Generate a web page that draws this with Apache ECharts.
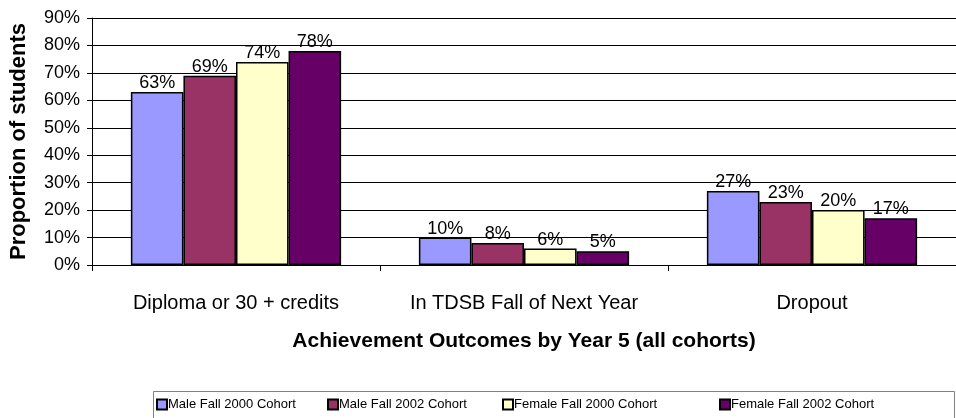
<!DOCTYPE html>
<html>
<head>
<meta charset="utf-8">
<script src="https://cdn.jsdelivr.net/npm/echarts@6/dist/echarts.min.js"></script>
<style>
  html, body { margin: 0; padding: 0; background: #fff; }
  #chart { width: 956px; height: 418px; }
</style>
</head>
<body>
<div id="chart"></div>
<script>
// Outcome categories and cohort percentages
const categories = ['Diploma or 30 + credits', 'In TDSB Fall of Next Year', 'Dropout'];
const seriesNames = ['Male Fall 2000 Cohort', 'Male Fall 2002 Cohort', 'Female Fall 2000 Cohort', 'Female Fall 2002 Cohort'];
const maleFall2000 = [63, 10, 27];
const maleFall2002 = [69, 8, 23];
const femaleFall2000 = [74, 6, 20];
const femaleFall2002 = [78, 5, 17];
const yTicks = [0, 10, 20, 30, 40, 50, 60, 70, 80, 90];

const colors = ['#9999FF', '#993366', '#FFFFCC', '#660066'];
const values = [maleFall2000, maleFall2002, femaleFall2000, femaleFall2002];
const legendLefts = [156, 327, 502, 719];
const FONT = '"Liberation Sans", Arial, sans-serif';

const chart = echarts.init(document.getElementById('chart'));

chart.setOption({
  animation: false,
  backgroundColor: '#fff',
  textStyle: { fontFamily: FONT, color: '#000' },
  grid: { left: 92, top: 18, width: 873, height: 247, containLabel: false },
  graphic: [{
    type: 'rect',
    shape: { x: 153.5, y: 391.5, width: 801, height: 40 },
    style: { fill: '#fff', stroke: '#808080', lineWidth: 1 },
    z: 0
  }],
  // one legend block per cohort so each entry sits at its own spot in the box
  legend: seriesNames.map((name, i) => ({
    data: [name],
    left: legendLefts[i],
    top: 398,
    padding: 0,
    itemWidth: 10,
    itemHeight: 10,
    icon: 'rect',
    textStyle: { fontFamily: FONT, fontSize: 13, color: '#000', padding: [0, 0, 0, -4] },
    z: 5
  })),
  xAxis: {
    type: 'category',
    data: categories,
    name: 'Achievement Outcomes by Year 5 (all cohorts)',
    nameLocation: 'middle',
    nameGap: 66,
    nameTextStyle: { fontFamily: FONT, fontSize: 21, fontWeight: 'bold', color: '#000' },
    axisLine: { lineStyle: { color: '#000', width: 1 } },
    axisTick: { show: true, length: 6, lineStyle: { color: '#000' } },
    axisLabel: { interval: 0, fontFamily: FONT, fontSize: 20, color: '#000', margin: 28 },
    splitLine: { show: false }
  },
  yAxis: {
    type: 'value',
    min: yTicks[0],
    max: yTicks[yTicks.length - 1],
    interval: 10,
    name: 'Proportion of students',
    nameLocation: 'middle',
    nameGap: 62,
    nameTextStyle: { fontFamily: FONT, fontSize: 22, fontWeight: 'bold', color: '#000' },
    axisLine: { show: true, lineStyle: { color: '#000', width: 1 } },
    axisTick: { show: true, length: 5, lineStyle: { color: '#000' } },
    axisLabel: { fontFamily: FONT, fontSize: 18, color: '#000', margin: 12, formatter: '{value}%' },
    splitLine: { show: true, lineStyle: { color: '#000', width: 1 } }
  },
  series: seriesNames.map((name, i) => ({
    name,
    type: 'bar',
    data: values[i],
    barGap: '0%',
    barCategoryGap: '27%',
    itemStyle: { color: colors[i], borderColor: '#000', borderWidth: 1.5 },
    label: {
      show: true,
      position: 'top',
      distance: 0,
      fontFamily: FONT,
      fontSize: 18,
      color: '#000',
      formatter: '{c}%'
    }
  }))
});
</script>
</body>
</html>
